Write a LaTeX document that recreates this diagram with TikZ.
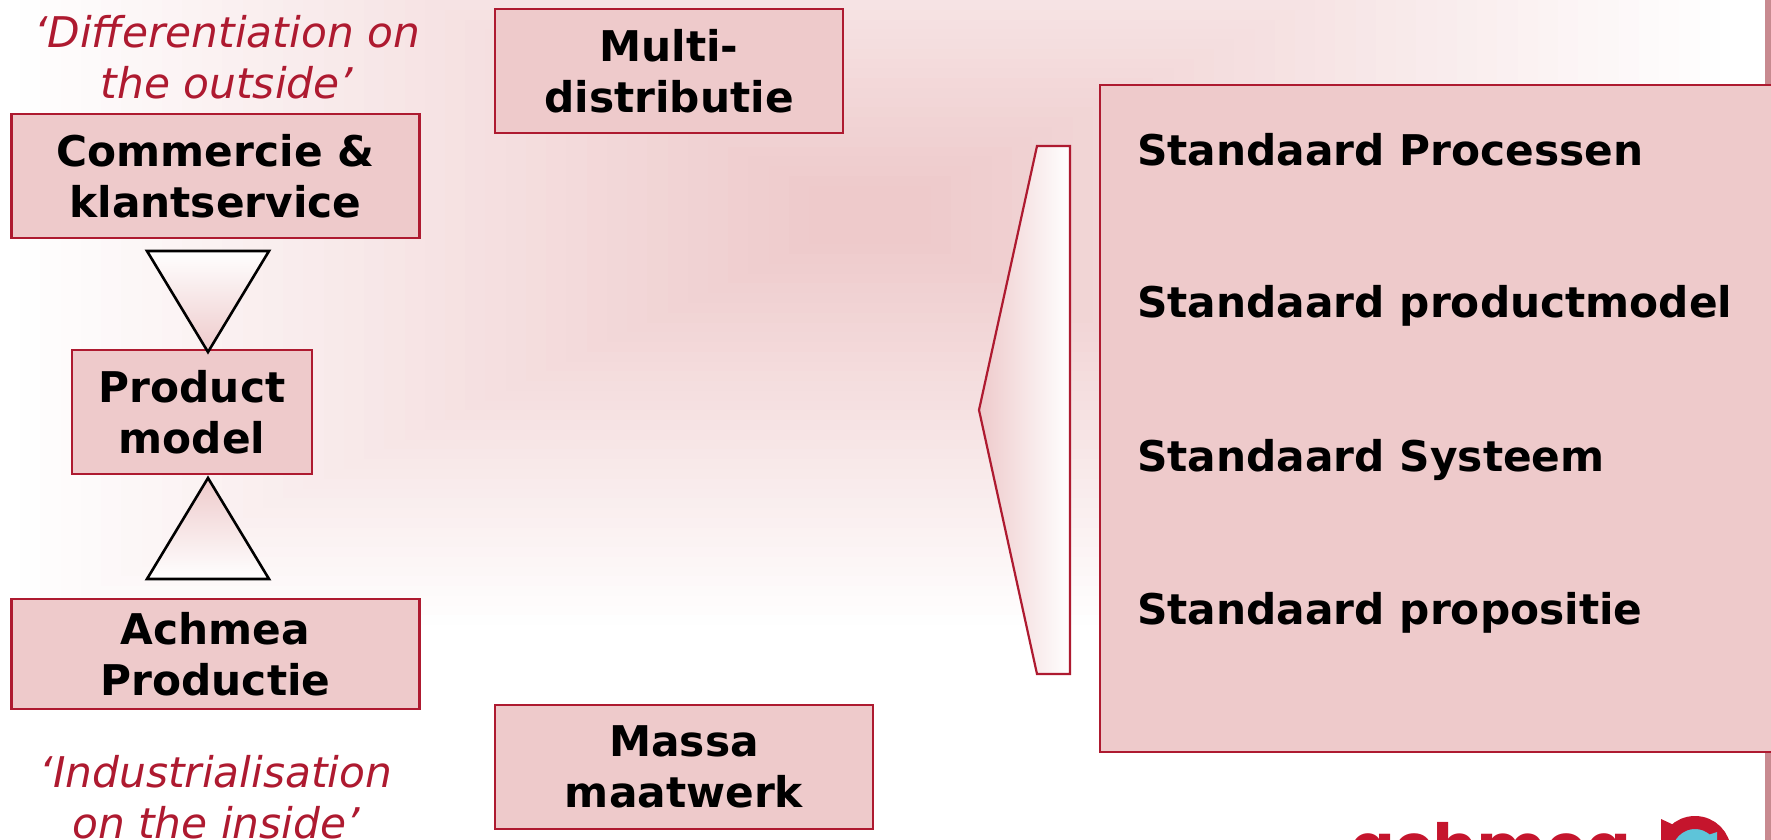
\documentclass[tikz,border=0pt]{standalone}
\usepackage{fontspec}
\setmainfont{DejaVu Sans}
\newfontfamily\logofont{Poppins}
\definecolor{roze}{HTML}{EECACB}
\definecolor{donkerrood}{HTML}{AE1A30}
\definecolor{logorood}{HTML}{C5152D}
\definecolor{logoblauw}{HTML}{5EC4D9}
\definecolor{balk}{HTML}{C88A90}
\newcommand{\bigtxt}{\fontsize{42.3}{51}\selectfont}
\tikzset{
    kader/.style={rectangle,draw=donkerrood,line width=2.2pt,fill=roze,align=center,font=\bigtxt\bfseries,inner sep=0pt},
    citaat/.style={align=center,text=donkerrood,font=\bigtxt\itshape,inner sep=0pt},
    regel/.style={anchor=west,font=\bigtxt\bfseries,inner sep=0pt},
    driehoek/.style={draw=black,line width=2.6pt,line join=miter},
    punt/.style={draw=donkerrood,line width=2.2pt}
}
\begin{document}
\begin{tikzpicture}[x=1pt,y=-1pt]
    \useasboundingbox (0,0) rectangle (1771,840);
    \clip (0,0) rectangle (1771,840);
    \fill[white] (0,0) rectangle (1771,840);
    % achtergrond
    \foreach \i in {0,1,...,40} {
        \pgfmathsetmacro{\f}{1-0.93*\i/40}
        \pgfmathsetmacro{\tint}{100*\i/40}
        \fill[roze!\tint!white] ({870-870*\f},{215-420*\f}) rectangle ({870+870*\f},{215+420*\f});
    }
    \fill[balk] (1765,0) rectangle (1771,840);
    \node[citaat] at (227,57) (outside) {`Differentiation on\\the outside'};
    \node[kader,minimum width=408pt,minimum height=124pt] at (215.5,176) (commercie) {Commercie \&\\klantservice};
    \node[kader,minimum width=348pt,minimum height=124pt] at (669,71) (multi) {Multi-\\distributie};
    \node[kader,minimum width=240pt,minimum height=124pt] at (192,412) (product) {Product\\model};
    \node[kader,minimum width=408pt,minimum height=110pt] at (215.5,654) (achmea) {Achmea\\Productie};
    \node[kader,minimum width=378pt,minimum height=124pt] at (684,767) (massa) {Massa\\maatwerk};
    \node[citaat] at (216,797) (inside) {`Industrialisation\\on the inside'};
    % driehoeken
    \draw[driehoek,top color=white,bottom color=roze] (147,251) -- (269,251) -- (208,352) -- cycle;
    \draw[driehoek,bottom color=white,top color=roze] (208,478) -- (269,579) -- (147,579) -- cycle;
    % punt
    \draw[punt,left color=roze,right color=white] (1037,146) -- (1070,146) -- (1070,674) -- (1037,674) -- (979,410) -- cycle;
    % blok rechts
    \node[kader,minimum width=680pt,minimum height=667pt] at (1440,418.5) (blok) {};
    \node[regel] at (1137,150) (processen) {Standaard Processen};
    \node[regel] at (1137,306) (productmodel) {Standaard productmodel};
    \node[regel] at (1137,460) (systeem) {Standaard Systeem};
    \node[regel] at (1137,613) (propositie) {Standaard propositie};
    % logo
    \node[anchor=base west,inner sep=0pt,text=logorood,font=\fontsize{65}{65}\logofont\bfseries] at (1350,870) (logo) {achmea};
    \node[circle,draw=logorood,line width=13pt,fill=logoblauw,minimum size=59pt,inner sep=0pt] at (1695,852) (ring) {};
    \fill[logorood] (1661,819) -- (1676,826) -- (1672,845) -- (1661,845) -- cycle;
    \fill[logoblauw] (1717,832) -- (1717,845) -- (1705,836) -- cycle;
\end{tikzpicture}
\end{document}
